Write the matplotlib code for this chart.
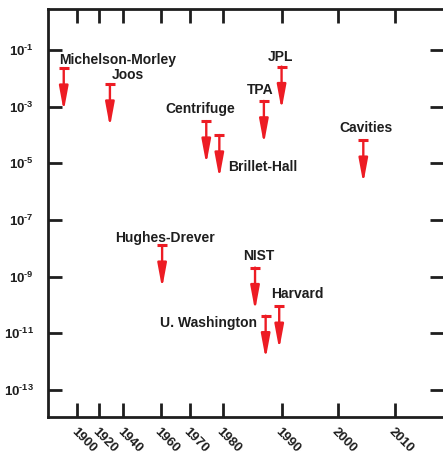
import numpy as np
import matplotlib
matplotlib.use('Agg')
import matplotlib.pyplot as plt

plt.rcParams['font.family'] = ['Liberation Sans', 'DejaVu Sans']
plt.rcParams['font.weight'] = 'bold'
plt.rcParams['mathtext.fontset'] = 'custom'
plt.rcParams['mathtext.rm'] = 'Liberation Sans:bold'
plt.rcParams['mathtext.bf'] = 'Liberation Sans:bold'

# Experiments: year and upper limit
names = ['Michelson-Morley', 'Joos', 'Hughes-Drever', 'Centrifuge', 'Brillet-Hall',
         'TPA', 'JPL', 'NIST', 'U. Washington', 'Harvard', 'Cavities']
years = [1887.5, 1929.0, 1960.5, 1975.0, 1979.0, 1987.0, 1990.0, 1985.5, 1987.3, 1989.6, 2004.5]
limits = [2.3e-2, 6.3e-3, 1.3e-8, 3.1e-4, 1.0e-4, 1.6e-3, 2.6e-2, 2.1e-9, 4.2e-11, 9.1e-11, 6.6e-5]

# label offsets (points) relative to the top of each arrow, and alignment
label_dx = [-3, 1, 2, -4, 6, -3, -1, 3, -6, 13, 2]
label_dy = [6, 6.5, 5.5, 8.5, -23, 7.5, 7, 8, -5.5, 9, 8.5]
label_ha = ['left', 'left', 'center', 'center', 'left', 'center', 'center',
            'center', 'right', 'center', 'center']

tick_years = [1900, 1920, 1940, 1960, 1970, 1980, 1990, 2000, 2010]
ytick_exp = [-1, -3, -5, -7, -9, -11, -13]

# the year axis is not linear: piecewise scale between the labelled years
scale_years = np.array([1850] + tick_years + [2050], dtype=float)
scale_pos = np.array([23.0, 77.3, 99.0, 123.3, 160.7, 190.0, 222.7, 281.7, 337.7, 395.0, 624.0])


def fwd(x):
    return np.interp(x, scale_years, scale_pos)


def inv(p):
    return np.interp(p, scale_pos, scale_years)


red = '#ed1c24'
dark = '#1e1e1e'

fig = plt.figure(figsize=(4.43, 4.55), dpi=100)
ax = fig.add_axes([48 / 443, 1 - 417 / 455, 396 / 443, 408 / 455])
ax.set_xscale('function', functions=(fwd, inv))
ax.set_yscale('log')
ax.set_xlim(1873, 2018.6)
ax.set_ylim(10 ** -13.95, 10 ** 0.447)

for name, yr, lim, dx, dy, ha in zip(names, years, limits, label_dx, label_dy, label_ha):
    ax.plot([yr], [lim], marker='_', ms=7.5, mew=2.2, color=red)
    ax.annotate('', xy=(yr, lim), xytext=(0, -31), textcoords='offset points',
                arrowprops=dict(arrowstyle='<|-,head_length=1.45,head_width=0.27',
                                color=red, lw=1.7, shrinkA=0, shrinkB=0))
    ax.annotate(name, xy=(yr, lim), xytext=(dx, dy), textcoords='offset points',
                ha=ha, va='center', fontsize=10, fontweight='bold', color=dark)

ax.set_xticks(tick_years)
ax.set_xticklabels([str(y) for y in tick_years], rotation=-45, ha='left', va='top',
                   rotation_mode='anchor', fontsize=9.5, fontweight='bold', color=dark)
ax.set_yticks([10.0 ** e for e in ytick_exp])
ax.set_yticklabels([r'$\mathbf{10^{\text{-}%d}}$' % -e for e in ytick_exp],
                   fontsize=9.5, color=dark)
ax.minorticks_off()
ax.yaxis.set_minor_locator(matplotlib.ticker.NullLocator())

ax.tick_params(axis='both', direction='in', length=10, width=2, color=dark,
               top=True, right=True)
ax.tick_params(axis='x', pad=6)
ax.tick_params(axis='y', pad=10)
for s in ax.spines.values():
    s.set_linewidth(2)
    s.set_color(dark)

fig.savefig('out.png', dpi=100)
